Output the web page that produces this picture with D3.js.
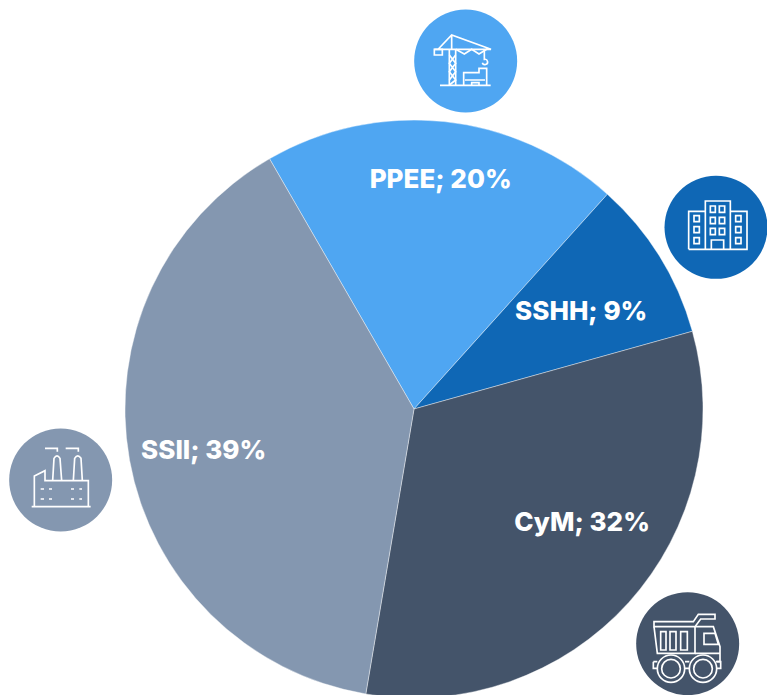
<!DOCTYPE html>
<html><head><meta charset="utf-8">
<script src="https://cdnjs.cloudflare.com/ajax/libs/d3/7.8.5/d3.min.js"></script>
<style>html,body{margin:0;padding:0;background:#fff;overflow:hidden}svg{display:block}</style>
</head><body><svg id="c" width="767" height="695"></svg>
<script>
const categories=["PPEE","SSHH","CyM","SSII"];
const shares=[20,9,32,39];
const colors=["#4FA6F2","#0F67B5","#44546A","#8497B0"];

const svg=d3.select("#c");
const cx=414,cy=409,R=289;
const pie=d3.pie().sort(null).startAngle(-30*Math.PI/180).endAngle(330*Math.PI/180).value(d=>d);
const arc=d3.arc().innerRadius(0).outerRadius(R);
const labelArc=d3.arc().innerRadius(R*0.75).outerRadius(R*0.75);
const color=d3.scaleOrdinal(categories,colors);
const arcs=pie(shares).map((a,i)=>({...a,cat:categories[i]}));
const g=svg.append("g").attr("transform",`translate(${cx},${cy})`);
g.selectAll("path").data(arcs).join("path")
  .attr("d",arc).attr("fill",d=>color(d.cat)).attr("stroke","#fff").attr("stroke-width",0.4);

const labelNudge={PPEE:[4,-15],SSHH:[-17,16],CyM:[7,-32],SSII:[3,2]};
g.selectAll("text").data(arcs).join("text")
  .attr("transform",d=>{const [x,y]=labelArc.centroid(d),[nx,ny]=labelNudge[d.cat];
    return `translate(${x+nx},${y+ny})`;})
  .attr("text-anchor","middle").attr("dy","0.36em")
  .attr("font-family","Inter, 'Open Sans', sans-serif").attr("font-weight",800).attr("font-size",26)
  .attr("fill","#fff")
  .text(d=>`${d.cat}; ${d.data}%`);

// Icons, drawn in 3x local units
const icons=[
 {cat:"PPEE",ox:405,oy:0,cx:182,cy:183,draw:[
  "M105 256H257","M133 148V255M152 148V255",
  "M133 165L152 190L133 215L152 240L133 255M152 165L133 190L152 215L133 240",
  "M88 148H258L140 105L100 147M140 105V148",
  "M88 148H112V165H88Z","M152 148L178 162L200 148L222 162L245 148",
  "M238 150V178A8 8 0 1 1 232 188",
  "M176 255V218H222V205H245V255M180 240H240M200 255V248H222V255"]},
 {cat:"SSHH",ox:657,oy:170,cx:177,cy:172,draw:[
  "M145 238V93H220V238M95 238V124H145M220 124H270V238H95",
  "M160 108h15v19h-15zM187 108h16v19h-16zM160 142h15v19h-15zM187 142h16v19h-16zM160 175h15v19h-15zM187 175h16v19h-16z",
  "M111 137h16v18h-16zM111 170h16v18h-16zM111 203h16v18h-16zM236 137h16v18h-16zM236 170h16v18h-16zM236 203h16v18h-16z",
  "M163 238V210H200V238"]},
 {cat:"SSII",ox:0,oy:420,cx:182,cy:180,draw:[
  "M95 260H272","M103 260V168L135 152V182H265V260",
  "M158 182L162 115Q171 100 180 115L185 182M220 182L224 115Q233 100 243 115L247 182",
  "M135 85H172V95M197 85H235V95",
  "M122 207H132M147 207H156M213 207H222M238 207H246M122 237H132M147 237H156M213 237H222M238 237H246"]},
 {cat:"CyM",ox:630,oy:585,cx:173,cy:176,draw:[
  "M72 110H190L205 88H255V102H212L195 125H72Z","M72 125L82 205H195V125",
  "M92 140H108V195H92ZM120 140H138V195H120ZM152 140H172V195H152Z",
  "M195 125H250L270 185V230H260M222 145H255L265 178H222ZM195 205H270",
  "M70 230H82M70 230V250H82M165 230H178M165 250H178M258 230H272V250H258"]}
];
const iconG=svg.selectAll("g.icon").data(icons).join("g").attr("class","icon")
  .attr("transform",d=>`translate(${d.ox},${d.oy}) scale(${1/3})`);
iconG.append("circle").attr("cx",d=>d.cx).attr("cy",d=>d.cy).attr("r",154.5).attr("fill",d=>color(d.cat));
iconG.selectAll("path").data(d=>d.draw).join("path").attr("d",d=>d)
  .attr("fill","none").attr("stroke","#fff").attr("stroke-width",d=>5);
const truck=iconG.filter(d=>d.cat==="CyM");
[[123,251],[219,251]].forEach(([x,y])=>{
  [41,28].forEach(r=>truck.append("circle").attr("cx",x).attr("cy",y).attr("r",r)
    .attr("fill","none").attr("stroke","#fff").attr("stroke-width",5));
});
</script></body></html>
